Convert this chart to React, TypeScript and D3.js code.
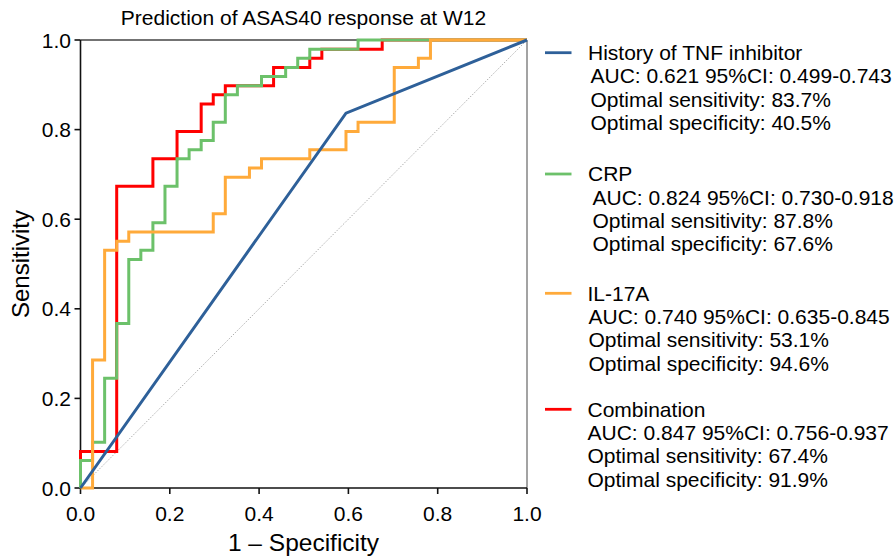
import React from "react";
import * as d3 from "d3";

// Sample sizes (negatives / positives)
const N_NEG = 37;
const N_POS = 49;

// ROC vertices as [false positives, true positives] counts
const tnfPoints: [number, number][] = [[0, 0], [22, 41], [37, 49]];
const crpPoints: [number, number][] = [
  [0, 0], [0, 3], [1, 3], [1, 5], [2, 5], [2, 12], [3, 12], [3, 18], [4, 18], [4, 25],
  [5, 25], [5, 26], [6, 26], [6, 29], [7, 29], [7, 33], [8, 33], [8, 36], [9, 36], [9, 37],
  [10, 37], [10, 38], [11, 38], [11, 40], [12, 40], [12, 43], [13, 43], [13, 44], [15, 44],
  [15, 45], [17, 45], [17, 46], [18, 46], [18, 47], [19, 47], [19, 48], [23, 48], [23, 49], [37, 49],
];
const il17aPoints: [number, number][] = [
  [0, 0], [1, 0], [1, 14], [2, 14], [2, 26], [3, 26], [3, 27], [4, 27], [4, 28], [11, 28],
  [11, 30], [12, 30], [12, 34], [14, 34], [14, 35], [15, 35], [15, 36], [19, 36], [19, 37],
  [22, 37], [22, 39], [23, 39], [23, 40], [26, 40], [26, 46], [28, 46], [28, 47], [29, 47],
  [29, 49], [37, 49],
];
const comboPoints: [number, number][] = [
  [0, 0], [0, 4], [3, 4], [3, 33], [6, 33], [6, 36], [8, 36], [8, 39], [10, 39], [10, 42],
  [11, 42], [11, 43], [12, 43], [12, 44], [16, 44], [16, 46], [19, 46], [19, 47], [20, 47],
  [20, 48], [25, 48], [25, 49], [37, 49],
];

const seriesNames = ["History of TNF inhibitor", "CRP", "IL-17A", "Combination"];
const seriesColors = ["#2E6099", "#6CC16A", "#FFAA3A", "#FF0000"];
const aucLines = [
  "AUC: 0.621 95%CI: 0.499-0.743",
  "AUC: 0.824 95%CI: 0.730-0.918",
  "AUC: 0.740 95%CI: 0.635-0.845",
  "AUC: 0.847 95%CI: 0.756-0.937",
];
const sensLines = [
  "Optimal sensitivity: 83.7%",
  "Optimal sensitivity: 87.8%",
  "Optimal sensitivity: 53.1%",
  "Optimal sensitivity: 67.4%",
];
const specLines = [
  "Optimal specificity: 40.5%",
  "Optimal specificity: 67.6%",
  "Optimal specificity: 94.6%",
  "Optimal specificity: 91.9%",
];
const ticks = [0, 0.2, 0.4, 0.6, 0.8, 1.0];

const W = 896;
const H = 556;
const FONT = "'Liberation Sans', Arial, sans-serif";

export default function App() {
  const x = d3.scaleLinear().domain([0, 1]).range([80.5, 527]);
  const y = d3.scaleLinear().domain([0, 1]).range([488, 40]);
  const line = d3
    .line<[number, number]>()
    .x((d) => x(d[0] / N_NEG))
    .y((d) => y(d[1] / N_POS));

  const curves = [tnfPoints, crpPoints, il17aPoints, comboPoints];
  const drawOrder = [3, 1, 2, 0];
  const legendY = [52.7, 174, 293.3, 409.3];
  const nameX = [588, 588, 587.5, 587.5];
  const detailX = [590.5, 592.5, 588.5, 587.5];
  const lf = 21;

  return (
    <svg
      width={W}
      height={H}
      style={{ position: "absolute", left: 0, top: 0, background: "#fff" }}
      fontFamily={FONT}
    >
      <rect x={0} y={0} width={W} height={H} fill="#fff" />
      <text x={303.5} y={25} fontSize={21} textAnchor="middle" fill="#000">
        Prediction of ASAS40 response at W12
      </text>

      {/* diagonal reference */}
      <line
        x1={x(0)}
        y1={y(0)}
        x2={x(1)}
        y2={y(1)}
        stroke="#9a9a9a"
        strokeWidth={0.8}
        strokeDasharray="1.5,1.5"
      />

      {/* frame top/right */}
      <line x1={x(0)} y1={y(1)} x2={x(1)} y2={y(1)} stroke="#444" strokeWidth={1.6} />
      <line x1={x(1)} y1={y(0)} x2={x(1)} y2={y(1)} stroke="#666" strokeWidth={1.2} />

      {/* axes */}
      <line x1={x(0)} y1={y(0)} x2={x(0)} y2={y(1)} stroke="#111" strokeWidth={1.6} />
      <line x1={x(0)} y1={y(0)} x2={x(1)} y2={y(0)} stroke="#111" strokeWidth={1.6} />
      {ticks.map((t) => (
        <g key={"x" + t}>
          <line x1={x(t)} x2={x(t)} y1={y(0)} y2={y(0) + 6} stroke="#111" strokeWidth={1.6} />
          <text x={x(t)} y={521} fontSize={21} textAnchor="middle" fill="#000">
            {t.toFixed(1)}
          </text>
        </g>
      ))}
      {ticks.map((t) => (
        <g key={"y" + t}>
          <line x1={x(0) - 6} x2={x(0)} y1={y(t)} y2={y(t)} stroke="#111" strokeWidth={1.6} />
          <text x={71} y={y(t) + 7.5} fontSize={21} textAnchor="end" fill="#000">
            {t.toFixed(1)}
          </text>
        </g>
      ))}

      {drawOrder.map((i) => (
        <path
          key={i}
          d={line(curves[i]) || ""}
          fill="none"
          stroke={seriesColors[i]}
          strokeWidth={3}
          strokeLinejoin="miter"
        />
      ))}

      <text x={303.5} y={551} fontSize={24.5} textAnchor="middle" fill="#000">
        1 – Specificity
      </text>
      <text
        transform={`translate(29,264) rotate(-90)`}
        fontSize={24}
        textAnchor="middle"
        fill="#000"
      >
        Sensitivity
      </text>

      {/* legend */}
      {seriesNames.map((name, i) => (
        <g key={name}>
          <line
            x1={545}
            x2={571.5}
            y1={legendY[i]}
            y2={legendY[i]}
            stroke={seriesColors[i]}
            strokeWidth={2.8}
          />
          <text x={nameX[i]} y={legendY[i] + 7.4} fontSize={lf} fill="#000">
            {name}
          </text>
          <text x={detailX[i]} y={legendY[i] + 30.7} fontSize={lf} fill="#000">
            {aucLines[i]}
          </text>
          <text x={detailX[i]} y={legendY[i] + 54} fontSize={lf} fill="#000">
            {sensLines[i]}
          </text>
          <text x={detailX[i]} y={legendY[i] + 77.3} fontSize={lf} fill="#000">
            {specLines[i]}
          </text>
        </g>
      ))}
    </svg>
  );
}
